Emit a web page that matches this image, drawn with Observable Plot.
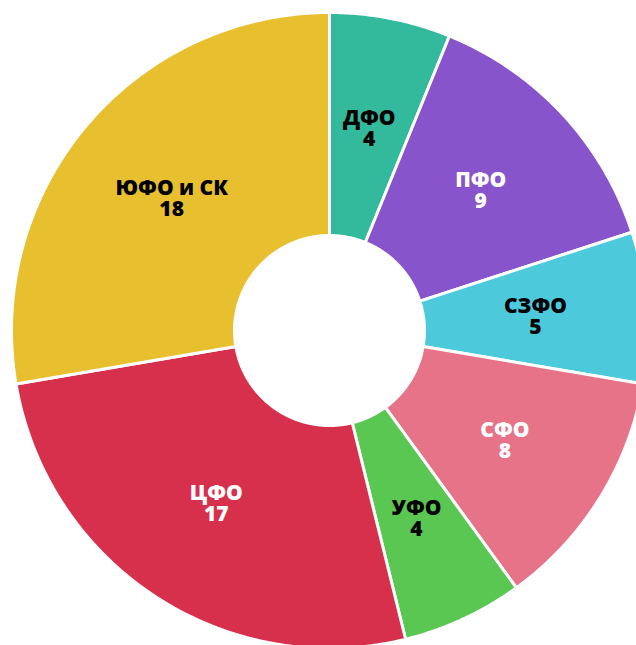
<!DOCTYPE html>
<html><head><meta charset="utf-8">
<script src="https://cdn.jsdelivr.net/npm/d3@7"></script>
<script src="https://cdn.jsdelivr.net/npm/@observablehq/plot@0.6"></script>
<style>html,body{margin:0;padding:0;background:#fff;overflow:hidden}</style>
</head><body><div id="chart"></div>
<script>
const regions = ["ДФО", "ПФО", "СЗФО", "СФО", "УФО", "ЦФО", "ЮФО и СК"];
const counts = [4, 9, 5, 8, 4, 17, 18];
const sliceColors = ["#33b99c", "#8854cc", "#4ccadc", "#e77388", "#5ac752", "#d6304c", "#e8bf2e"];
const labelColors = ["#000", "#fff", "#000", "#fff", "#000", "#fff", "#000"];

const W = 636, H = 645, cx = 329, cy = 330, R = 318, R0 = 95;
const inner = R0 / R;

const rows = regions.map((name, i) => ({name, count: counts[i], color: sliceColors[i], label: labelColors[i]}));
const arcs = d3.pie().sort(null).value(d => d.count)(rows);

// slice outlines in unit (radius = 1) space, angle measured clockwise from 12 o'clock
const outline = [];
for (const a of arcs) {
  const n = Math.max(8, Math.ceil((a.endAngle - a.startAngle) * 120));
  const pts = [];
  for (let k = 0; k <= n; k++) {
    const t = a.startAngle + (a.endAngle - a.startAngle) * k / n;
    pts.push([Math.sin(t), Math.cos(t)]);
  }
  for (let k = n; k >= 0; k--) {
    const t = a.startAngle + (a.endAngle - a.startAngle) * k / n;
    pts.push([Math.sin(t) * inner, Math.cos(t) * inner]);
  }
  pts.push(pts[0]);
  for (const [x, y] of pts) outline.push({name: a.data.name, color: a.data.color, x, y});
}

const labels = arcs.map(a => {
  const m = (a.startAngle + a.endAngle) / 2, rr = (1 + inner) / 2;
  return {x: Math.sin(m) * rr, y: Math.cos(m) * rr, text: a.data.name + "\n" + a.data.count, fill: a.data.label};
});

const chart = Plot.plot({
  width: W, height: H,
  margin: 0,
  style: {fontFamily: "'Open Sans', Lato, sans-serif", background: "#fff"},
  x: {domain: [-cx / R, (W - cx) / R], range: [0, W], axis: null},
  y: {domain: [-(H - cy) / R, cy / R], range: [H, 0], axis: null},
  color: {type: "identity"},
  marks: [
    Plot.line(outline, {x: "x", y: "y", z: "name", fill: "color", stroke: "#fff", strokeWidth: 3, strokeLinejoin: "round", curve: "linear"}),
    Plot.text(labels, {x: "x", y: "y", text: "text", fill: "fill", fontSize: 21, fontWeight: 800, lineHeight: 1.0, dy: 1})
  ]
});
document.getElementById("chart").appendChild(chart);
</script>
</body></html>
